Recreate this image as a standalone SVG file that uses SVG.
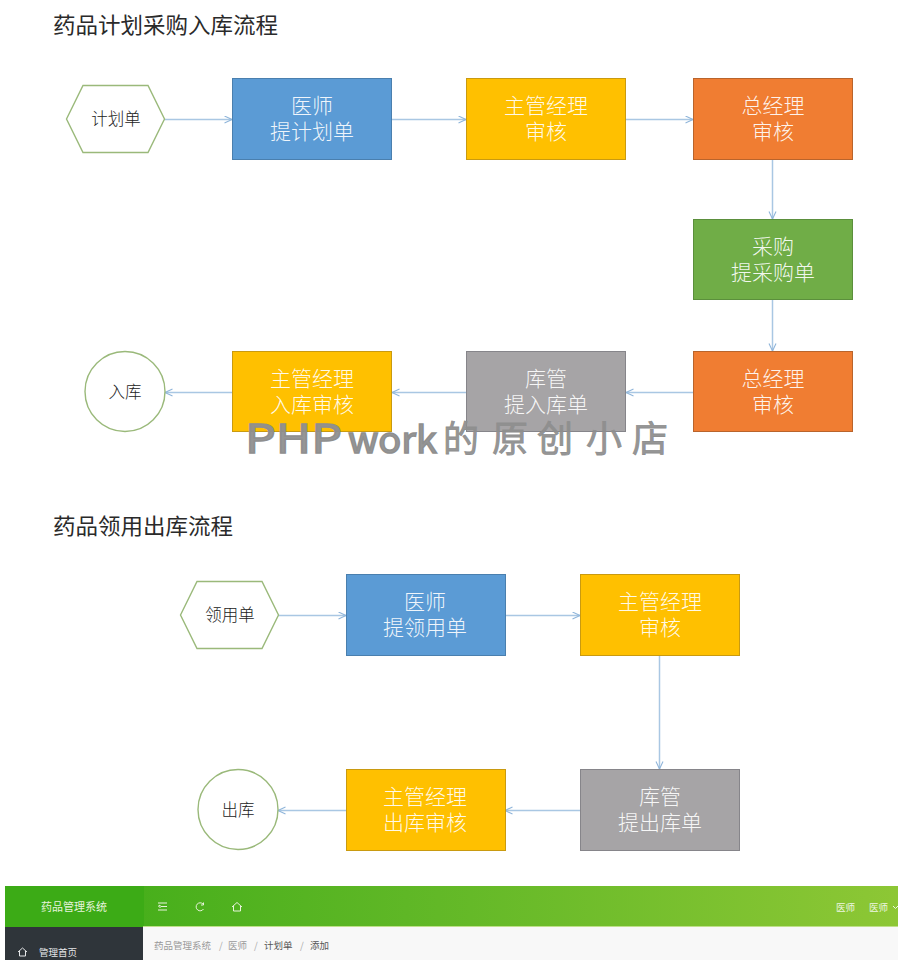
<svg xmlns="http://www.w3.org/2000/svg" width="898" height="960" viewBox="0 0 898 960">
<style>
text{font-family:"Noto Sans CJK SC","Liberation Sans",sans-serif}
.title{font-size:22px;fill:#2a2a2a;font-weight:400}
.b{stroke-width:1}
.blue{fill:#5b9bd5;stroke:#4a7fae}
.yel{fill:#ffc000;stroke:#c99a10}
.org{fill:#f07d32;stroke:#b9642c}
.grn{fill:#70ad47;stroke:#5b8f3c}
.gry{fill:#a6a4a6;stroke:#86858a}
.bt{font-size:21px;fill:#fff;text-anchor:middle;font-weight:300;fill-opacity:.92}
.out{fill:#fff;stroke:#9ab97a;stroke-width:1.4}
.ot{font-size:16.500px;fill:#222;text-anchor:middle;font-weight:300}
.c{fill:none;stroke:#a9c7e3;stroke-width:1.5}
.nav{fill:none;stroke:#e8f3dc;stroke-width:1}
.wm{fill:#8f8f8f;stroke:#8f8f8f;fill-opacity:.95}
.s{font-size:9.500px}
</style>
<defs>
<marker id="a" markerWidth="10" markerHeight="10" refX="8" refY="4" orient="auto" markerUnits="userSpaceOnUse"><path d="M0.500 0.500L8 4L0.500 7.500" fill="none" stroke="#8fb5da" stroke-width="1.100"/></marker>
<linearGradient id="hd" x1="0" x2="1" y1="0" y2="0"><stop offset="0" stop-color="#3cab16"/><stop offset=".45" stop-color="#5fb726"/><stop offset="1" stop-color="#8dc735"/></linearGradient>
</defs>
<rect width="898" height="960" fill="#fff"/>
<text class="title" x="53" y="33" textLength="225" lengthAdjust="spacingAndGlyphs">药品计划采购入库流程</text>
<text class="title" x="53" y="534" textLength="180" lengthAdjust="spacingAndGlyphs">药品领用出库流程</text>
<g id="connectors" class="c">
<path marker-end="url(#a)" d="M164 119.500H232"/>
<path marker-end="url(#a)" d="M392 119.500H466"/>
<path marker-end="url(#a)" d="M626 119.500H693"/>
<path marker-end="url(#a)" d="M772.500 159V219"/>
<path marker-end="url(#a)" d="M772.500 300V351"/>
<path marker-end="url(#a)" d="M693 392.500H626"/>
<path marker-end="url(#a)" d="M466 392.500H392"/>
<path marker-end="url(#a)" d="M232 392.500H165"/>
<path marker-end="url(#a)" d="M278 615.500H346"/>
<path marker-end="url(#a)" d="M505 615.500H580"/>
<path marker-end="url(#a)" d="M659.500 656V769"/>
<path marker-end="url(#a)" d="M580 810.500H505"/>
<path marker-end="url(#a)" d="M346 810.500H278"/>
</g>
<g id="n1"><polygon class="out" points="66.500,119 83,85.500 148,85.500 164.500,119 148,152.500 83,152.500"/><text class="ot" x="116" y="124.500">计划单</text></g>
<g id="n2"><rect class="b blue" x="232.500" y="78.500" width="159" height="81"/><text class="bt" y="113"><tspan x="312">医师</tspan><tspan x="312" dy="26">提计划单</tspan></text></g>
<g id="n3"><rect class="b yel" x="466.500" y="78.500" width="159" height="81"/><text class="bt" y="113"><tspan x="546">主管经理</tspan><tspan x="546" dy="26">审核</tspan></text></g>
<g id="n4"><rect class="b org" x="693.500" y="78.500" width="159" height="81"/><text class="bt" y="113"><tspan x="773">总经理</tspan><tspan x="773" dy="26">审核</tspan></text></g>
<g id="n5"><rect class="b grn" x="693.500" y="219.500" width="159" height="80"/><text class="bt" y="254"><tspan x="773">采购</tspan><tspan x="773" dy="26">提采购单</tspan></text></g>
<g id="n6"><rect class="b org" x="693.500" y="351.500" width="159" height="80"/><text class="bt" y="386"><tspan x="773">总经理</tspan><tspan x="773" dy="26">审核</tspan></text></g>
<g id="n7"><rect class="b gry" x="466.500" y="351.500" width="159" height="80"/><text class="bt" y="386"><tspan x="546">库管</tspan><tspan x="546" dy="26">提入库单</tspan></text></g>
<g id="n8"><rect class="b yel" x="232.500" y="351.500" width="159" height="80"/><text class="bt" y="386"><tspan x="312">主管经理</tspan><tspan x="312" dy="26">入库审核</tspan></text></g>
<g id="n9"><circle class="out" cx="125" cy="391.500" r="40"/><text class="ot" x="125" y="397.500">入库</text></g>
<g id="n10"><polygon class="out" points="180.500,615 197,581.500 262,581.500 278.500,615 262,648.500 197,648.500"/><text class="ot" x="230" y="620.500">领用单</text></g>
<g id="n11"><rect class="b blue" x="346.500" y="574.500" width="159" height="81"/><text class="bt" y="609"><tspan x="425">医师</tspan><tspan x="425" dy="26">提领用单</tspan></text></g>
<g id="n12"><rect class="b yel" x="580.500" y="574.500" width="159" height="81"/><text class="bt" y="609"><tspan x="660">主管经理</tspan><tspan x="660" dy="26">审核</tspan></text></g>
<g id="n13"><rect class="b gry" x="580.500" y="769.500" width="159" height="81"/><text class="bt" y="804"><tspan x="660">库管</tspan><tspan x="660" dy="26">提出库单</tspan></text></g>
<g id="n14"><rect class="b yel" x="346.500" y="769.500" width="159" height="81"/><text class="bt" y="804"><tspan x="425">主管经理</tspan><tspan x="425" dy="26">出库审核</tspan></text></g>
<g id="n15"><circle class="out" cx="238" cy="809.500" r="40"/><text class="ot" x="238" y="815.500">出库</text></g>
<g id="watermark" class="wm">
<text x="245" y="453" font-size="40" stroke-width="1.500" fill="#8f8f8f" textLength="97" lengthAdjust="spacingAndGlyphs">PHP</text>
<text x="348" y="453" font-size="36" stroke-width="1.500" fill="#8f8f8f" textLength="89" lengthAdjust="spacingAndGlyphs">work</text>
<text x="443 492 537 586 632" y="452" font-size="36" stroke-width=".8" fill="#8f8f8f">的原创小店</text>
</g>
<g id="app">
<rect x="5" y="886" width="893" height="41" fill="url(#hd)"/>
<rect x="5" y="886" width="139" height="41" fill="#3cab16"/>
<rect x="143" y="926" width="755" height="1" fill="#bfe08a"/>
<rect x="5" y="927" width="138" height="33" fill="#2f353a"/>
<rect x="143" y="927" width="755" height="33" fill="#f8f8f8"/>
<text x="41" y="911" font-size="11" fill="#e6f3dc">药品管理系统</text>
<g class="nav"><path d="M158 903H167M161 906.500H167M158 910H167M158 906.500L160 905V908"/><path d="M203 904A4 4 0 1 0 203.500 909M203.500 902.500V905H201"/><path d="M232 907L237 902.500L242 907M233.500 906V911H240.500V906"/></g>
<text x="836" y="911" class="s" fill="#eef6e2">医师</text><text x="869" y="911" class="s" fill="#eef6e2">医师</text>
<path d="M893 906L895.500 908.500L898 906" fill="none" stroke="#eef6e2"/>
<path d="M18 952L22.500 948L27 952M19.500 951V956H25.500V951" fill="none" stroke="#e4e6e8"/>
<text x="39" y="956" class="s" fill="#e4e6e8">管理首页</text>
<text x="154" y="949" class="s" fill="#9a9a9a">药品管理系统</text>
<text x="219" y="949" class="s" fill="#aaa">/</text>
<text x="228" y="949" class="s" fill="#9a9a9a">医师</text>
<text x="254" y="949" class="s" fill="#aaa">/</text>
<text x="264" y="949" class="s" fill="#555">计划单</text>
<text x="300" y="949" class="s" fill="#aaa">/</text>
<text x="310" y="949" class="s" fill="#555">添加</text>
</g>
</svg>
